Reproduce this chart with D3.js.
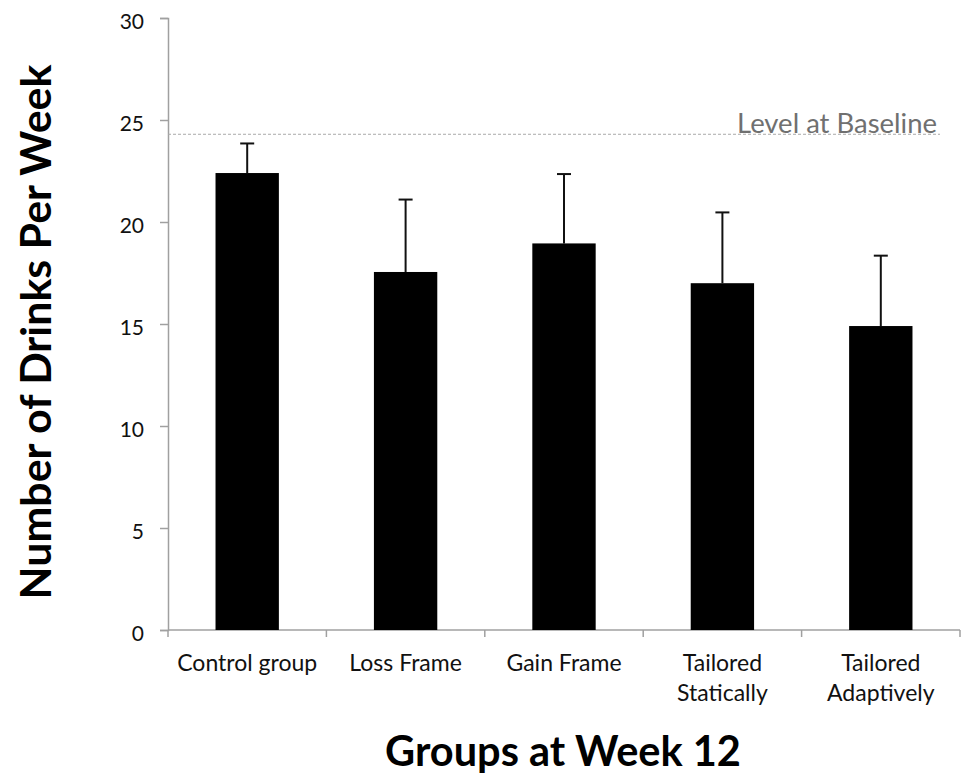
<!DOCTYPE html>
<html>
<head>
<meta charset="utf-8">
<script src="https://cdn.jsdelivr.net/npm/d3@7"></script>
<style>
  body { margin: 0; background: #fff; }
  text { font-family: Lato, "Open Sans", sans-serif; }
</style>
</head>
<body>
<svg id="chart"></svg>
<script>
// Data
const groups = ["Control group", "Loss Frame", "Gain Frame", "Tailored Statically", "Tailored Adaptively"];
const groupLines = [["Control group"], ["Loss Frame"], ["Gain Frame"], ["Tailored", "Statically"], ["Tailored", "Adaptively"]];
const means = [22.4, 17.55, 18.95, 17.0, 14.9];
const upper = [23.85, 21.1, 22.35, 20.47, 18.35];
const baseline = 24.3;
const yTicks = [0, 5, 10, 15, 20, 25, 30];

// Configurations
const width = 964, height = 778;
const marginLeft = 168, marginRight = 4, marginTop = 18, marginBottom = 148;

const svg = d3.select("#chart")
  .attr("width", width)
  .attr("height", height)
  .attr("viewBox", [0, 0, width, height]);

// scale a text's font size so it spans the given width
function fitSize(txt, weight, target) {
  const t = svg.append("text").attr("font-size", 100).attr("font-weight", weight).text(txt);
  const w = t.node().getComputedTextLength();
  t.remove();
  return 100 * target / w;
}

const x = d3.scaleBand(groups, [marginLeft, width - marginRight])
  .paddingInner(0.6)
  .paddingOuter(0.3);
const y = d3.scaleLinear([0, 30], [height - marginBottom, marginTop]);

// y axis
svg.append("g")
  .attr("transform", `translate(${marginLeft},0)`)
  .call(d3.axisLeft(y).tickValues(yTicks).tickSize(8).tickSizeOuter(8).tickPadding(16))
  .call(g => g.selectAll("path, line").attr("stroke", "#a0a0a0").attr("stroke-width", 1.5))
  .call(g => g.selectAll("text").attr("font-size", 21).attr("dy", "0.48em").attr("fill", "#111")
    .attr("font-family", "Lato, sans-serif"));

// x axis with ticks between groups
const xAxisG = svg.append("g")
  .attr("transform", `translate(0,${y(0)})`);
xAxisG.append("line")
  .attr("x1", marginLeft).attr("x2", width - marginRight)
  .attr("stroke", "#a0a0a0").attr("stroke-width", 1.5);
const edges = groups.map(g => x(g) - x.step() * x.paddingOuter()).concat([width - marginRight]);
xAxisG.selectAll(".tk")
  .data(edges)
  .join("line")
  .attr("x1", d => d).attr("x2", d => d)
  .attr("y1", 0).attr("y2", 7)
  .attr("stroke", "#a0a0a0").attr("stroke-width", 1.5);

const labelSize = fitSize("Control group", "normal", 140);
xAxisG.selectAll(".lbl")
  .data(groupLines)
  .join("text")
  .attr("text-anchor", "middle")
  .attr("font-size", labelSize)
  .attr("fill", "#111")
  .attr("transform", (d, i) => `translate(${x(groups[i]) + x.bandwidth() / 2},41)`)
  .selectAll("tspan")
  .data(d => d)
  .join("tspan")
  .attr("x", 0)
  .attr("dy", (d, i) => i === 0 ? 0 : 30)
  .text(d => d);

// baseline
svg.append("line")
  .attr("x1", marginLeft).attr("x2", 940)
  .attr("y1", y(baseline)).attr("y2", y(baseline))
  .attr("stroke", "#aaa").attr("stroke-width", 1)
  .attr("stroke-dasharray", "3,2");
svg.append("text")
  .attr("x", 937).attr("y", y(baseline) - 1)
  .attr("text-anchor", "end")
  .attr("font-size", fitSize("Level at Baseline", "normal", 200))
  .attr("fill", "#707070")
  .text("Level at Baseline");

// error bars
const err = svg.append("g").attr("stroke", "#111").attr("stroke-width", 2);
err.selectAll(".v")
  .data(groups)
  .join("line")
  .attr("x1", d => x(d) + x.bandwidth() / 2)
  .attr("x2", d => x(d) + x.bandwidth() / 2)
  .attr("y1", (d, i) => y(means[i]))
  .attr("y2", (d, i) => y(upper[i]));
err.selectAll(".c")
  .data(groups)
  .join("line")
  .attr("x1", d => x(d) + x.bandwidth() / 2 - 7)
  .attr("x2", d => x(d) + x.bandwidth() / 2 + 7)
  .attr("y1", (d, i) => y(upper[i]))
  .attr("y2", (d, i) => y(upper[i]));

// bars
svg.append("g")
  .attr("fill", "#000")
  .selectAll("rect")
  .data(groups)
  .join("rect")
  .attr("x", d => x(d))
  .attr("y", (d, i) => y(means[i]))
  .attr("width", x.bandwidth())
  .attr("height", (d, i) => y(0) - y(means[i]));

// axis titles
svg.append("text")
  .attr("transform", "translate(51,332) rotate(-90)")
  .attr("text-anchor", "middle")
  .attr("font-size", fitSize("Number of Drinks Per Week", "bold", 535))
  .attr("font-weight", "bold")
  .attr("fill", "#000")
  .text("Number of Drinks Per Week");
svg.append("text")
  .attr("x", 563).attr("y", 766)
  .attr("text-anchor", "middle")
  .attr("font-size", fitSize("Groups at Week 12", "bold", 356))
  .attr("font-weight", "bold")
  .attr("fill", "#000")
  .text("Groups at Week 12");
</script>
</body>
</html>
